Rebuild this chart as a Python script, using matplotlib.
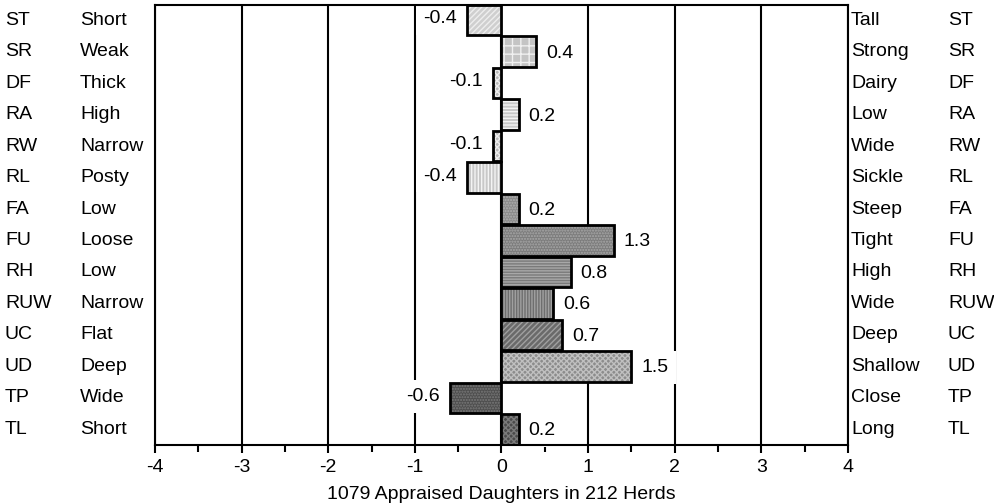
import matplotlib
matplotlib.use("Agg")
import matplotlib.pyplot as plt
import matplotlib.transforms as mtransforms

plt.rcParams['font.family'] = ['Liberation Sans', 'DejaVu Sans']
plt.rcParams['hatch.linewidth'] = 1.0

codes = ["ST", "SR", "DF", "RA", "RW", "RL", "FA", "FU", "RH", "RUW", "UC", "UD", "TP", "TL"]
low_desc = ["Short", "Weak", "Thick", "High", "Narrow", "Posty", "Low", "Loose", "Low",
            "Narrow", "Flat", "Deep", "Wide", "Short"]
high_desc = ["Tall", "Strong", "Dairy", "Low", "Wide", "Sickle", "Steep", "Tight", "High",
             "Wide", "Deep", "Shallow", "Close", "Long"]
values = [-0.4, 0.4, -0.1, 0.2, -0.1, -0.4, 0.2, 1.3, 0.8, 0.6, 0.7, 1.5, -0.6, 0.2]
xticks = [-4, -3, -2, -1, 0, 1, 2, 3, 4]
xlabel = "1079 Appraised Daughters in 212 Herds"

faces = ["#cfcfcf", "#c4c4c4", "#b8b8b8", "#c8c8c8", "#b8b8b8", "#c8c8c8", "#8a8a8a",
         "#7c7c7c", "#7a7a7a", "#6e6e6e", "#6a6a6a", "#8c8c8c", "#4e4e4e", "#4a4a4a"]
hatch_cols = ["#eeeeee", "#f0f0f0", "#eeeeee", "#f4f4f4", "#eeeeee", "#f4f4f4", "#b0b0b0",
              "#a8a8a8", "#a8a8a8", "#a0a0a0", "#a0a0a0", "#c0c0c0", "#7a7a7a", "#7a7a7a"]
hatches = ["//////", "++", "xxxxxx", "-----", "xxxxxx", "|||||", "......",
           "......", "------", "||||||", "//////", "xxxxxx", "......", "xxxxxx"]

FS = 14

fig = plt.figure(figsize=(9.95, 5.04), dpi=100)
ax = fig.add_axes([155/995, 1-445/504, (848-155)/995, (445-4.5)/504])

n = len(codes)

for x in xticks:
    ax.axvline(x, color="black", lw=1.5, zorder=0)

for i, v in enumerate(values):
    ax.barh(i, v, height=0.97, color=faces[i], edgecolor=hatch_cols[i],
            hatch=hatches[i], linewidth=0, zorder=5)
    ax.barh(i, v, height=0.97, fill=False, edgecolor="black", linewidth=2, zorder=6)
    if v >= 0:
        ax.annotate(f"{v:.1f}", (v, i), xytext=(7, -1), textcoords="offset points",
                    ha="left", va="center", fontsize=FS, zorder=4,
                    bbox=dict(boxstyle="square,pad=0.4", fc="white", ec="none"))
    else:
        ax.annotate(f"{v:.1f}", (v, i), xytext=(-7, 1), textcoords="offset points",
                    ha="right", va="center", fontsize=FS, zorder=4,
                    bbox=dict(boxstyle="square,pad=0.4", fc="white", ec="none"))

ax.set_xlim(-4, 4)
ax.set_ylim(n - 0.5, -0.5)
ax.set_yticks([])
ax.set_xticks(xticks)
ax.set_xticklabels([str(t) for t in xticks], fontsize=FS)
ax.set_xticks([-3.5, -2.5, -1.5, -0.5, 0.5, 1.5, 2.5, 3.5], minor=True)
ax.tick_params(axis="x", which="major", direction="out", length=6, width=1.5, pad=4)
ax.tick_params(axis="x", which="minor", direction="out", length=5, width=1.5)
for s in ax.spines.values():
    s.set_linewidth(1.5)
    s.set_zorder(7)
ax.set_xlabel(xlabel, fontsize=FS, labelpad=7)

trans = mtransforms.blended_transform_factory(fig.transFigure, ax.transData)
for i in range(n):
    ax.text(5/995, i, codes[i], transform=trans, ha="left", va="center", fontsize=FS, clip_on=False)
    ax.text(80/995, i, low_desc[i], transform=trans, ha="left", va="center", fontsize=FS, clip_on=False)
    ax.text(851/995, i, high_desc[i], transform=trans, ha="left", va="center", fontsize=FS, clip_on=False)
    ax.text(948/995, i, codes[i], transform=trans, ha="left", va="center", fontsize=FS, clip_on=False)

fig.savefig("out.png", dpi=100)
